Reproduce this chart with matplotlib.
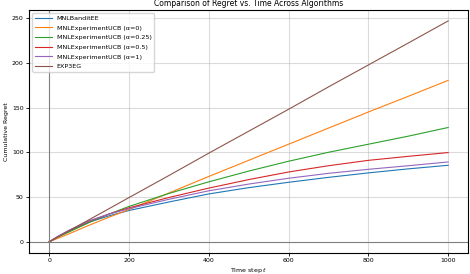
import numpy as np
import matplotlib
matplotlib.use("Agg")
import matplotlib.pyplot as plt

t = [0, 25, 50, 100, 150, 200, 300, 400, 500, 600, 700, 800, 900, 1000]

bandit_ee = [0, 6.5, 12, 22, 29, 35, 44.5, 53.5, 60.5, 66.5, 72, 77, 81.5, 85.5]
ucb_a0 = [0, 4.5, 9, 18.5, 27.5, 36, 54.5, 73, 91, 109, 127, 145, 162.5, 180.3]
ucb_a025 = [0, 6, 11, 21.5, 31, 39.5, 54, 67, 79, 90, 100, 109, 118, 127.7]
ucb_a05 = [0, 6.5, 12.5, 23, 31, 38, 49.5, 60, 69.5, 78, 85, 91, 95.5, 99.7]
ucb_a1 = [0, 7, 13, 23.5, 31, 37, 47.5, 57, 64.5, 71, 76.5, 81, 85, 89.2]
exp3eg = [0, 6.2, 12.4, 24.7, 37, 49.4, 74, 99, 123.5, 148, 173, 197.5, 222, 246.7]

labels = ["MNLBanditEE", "MNLExperimentUCB (α=0)", "MNLExperimentUCB (α=0.25)",
          "MNLExperimentUCB (α=0.5)", "MNLExperimentUCB (α=1)", "EXP3EG"]
series = [bandit_ee, ucb_a0, ucb_a025, ucb_a05, ucb_a1, exp3eg]

fig = plt.figure(figsize=(4.7, 2.74), dpi=100)
ax = fig.add_axes([0.062, 0.077, 0.934, 0.887])

for y, lab in zip(series, labels):
    ax.plot(t, y, linewidth=0.8, label=lab)

ax.axhline(0, color="gray", linewidth=0.8)
ax.axvline(0, color="gray", linewidth=0.8)
ax.grid(True, alpha=0.45, linewidth=0.8)

ax.set_title("Comparison of Regret vs. Time Across Algorithms", fontsize=5.5, pad=3)
ax.set_xlabel("Time step $t$", fontsize=4.5, labelpad=2)
ax.set_ylabel("Cumulative Regret", fontsize=4.5, labelpad=2)
ax.tick_params(labelsize=4.5, length=2, width=0.6, pad=2)
for s in ax.spines.values():
    s.set_linewidth(0.8)

ax.legend(loc="upper left", fontsize=4.6, handlelength=2.6, labelspacing=0.65)

fig.savefig("out.png", dpi=100)
